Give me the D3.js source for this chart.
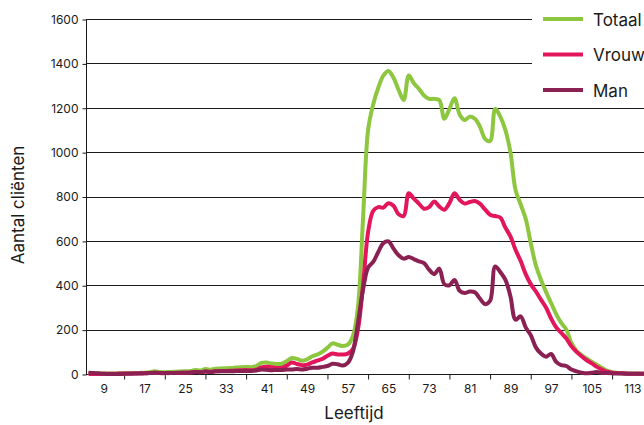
<!DOCTYPE html>
<html>
<head>
<meta charset="utf-8">
<script src="https://cdn.jsdelivr.net/npm/d3@7"></script>
<style>
  body { margin: 0; background: #fff; }
  svg { display: block; font-family: Inter, "Open Sans", sans-serif; }
</style>
</head>
<body>
<div id="chart"></div>
<script>
// ages 6..117 (one value per year of age)
const ages = d3.range(6, 118);

const totaal = [
  4, 3, 2, 2, 2, 2, 3, 3, 4, 4,                 // 6-15
  5, 6, 8, 12, 9, 8, 9, 10, 11, 12,             // 16-25
  13, 18, 16, 22, 19, 24, 25, 26, 27, 29,       // 26-35
  31, 32, 31, 36, 50, 52, 47, 45, 46, 58,       // 36-45
  72, 68, 60, 66, 80, 88, 100, 118, 138, 132,   // 46-55
  126, 132, 170, 300, 700, 1100, 1215, 1290, 1345, 1366, // 56-65
  1335, 1280, 1235, 1345, 1310, 1285, 1255, 1240, 1240, 1235, // 66-75
  1150, 1195, 1243, 1170, 1145, 1160, 1150, 1115, 1060, 1050, // 76-85
  1195, 1160, 1100, 1000, 830, 765, 700, 590, 490, 425,      // 86-95
  370, 320, 270, 230, 200, 140, 105, 85, 70, 55,             // 96-105
  42, 28, 15, 8, 5, 3, 2, 2, 2, 1,                           // 106-115
  1, 1                                                       // 116-117
];

const vrouw = [
  0, 0, 0, 1, 1, 1, 2, 2, 2, 2,
  3, 3, 4, 6, 4, 4, 4, 5, 5, 6,
  6, 9, 8, 11, 10, 12, 13, 14, 15, 16,
  17, 18, 17, 20, 30, 33, 30, 27, 28, 38,
  52, 45, 40, 42, 52, 60, 68, 82, 92, 88,
  88, 92, 112, 200, 400, 640, 735, 752, 750, 770,
  758, 720, 712, 815, 790, 768, 745, 752, 777, 755,
  740, 770, 815, 785, 768, 775, 780, 768, 742, 718,
  712, 705, 660, 620, 560, 510, 450, 405, 372, 335,
  300, 250, 210, 185, 160, 125, 100, 80, 62, 48,
  32, 20, 10, 6, 4, 3, 2, 1, 1, 1,
  0, 0
];

const man = [
  6, 5, 3, 1, 0, 0, 0, 1, 1, 2,
  2, 3, 4, 6, 5, 4, 5, 5, 6, 6,
  7, 9, 8, 11, 9, 12, 12, 12, 12, 13,
  14, 14, 14, 16, 20, 19, 17, 18, 18, 20,
  20, 23, 20, 24, 28, 28, 32, 36, 46, 44,
  38, 50, 100, 230, 380, 480, 505, 550, 590, 598,
  565, 535, 520, 527, 518, 508, 500, 470, 450, 475,
  405, 400, 424, 375, 365, 372, 368, 340, 315, 330,
  485, 460, 425, 350, 245, 260, 210, 175, 120, 92,
  78, 90, 55, 40, 36, 20, 12, 6, 3, 6,
  9, 5, 4, 3, 2, 2, 1, 1, 1, 1,
  0, 0
];

const xTicks = [13, 21, 29, 37, 45, 53, 61, 69, 77, 85, 93, 101, 109, 117];
const xLabels = [9, 17, 25, 33, 41, 49, 57, 65, 73, 81, 89, 97, 105, 113];
const yTicks = [0, 200, 400, 600, 800, 1000, 1200, 1400, 1600];

const series = [
  { name: "Totaal", values: totaal, color: "#8dc63f" },
  { name: "Vrouw", values: vrouw, color: "#e3165b" },
  { name: "Man", values: man, color: "#8b2153" }
];

const w = 644, h = 425;
const padLeft = 86, padTop = 19, padBottom = 374;

const svg = d3.select("#chart").append("svg")
  .attr("width", w).attr("height", h);

const x = d3.scaleLinear().domain([5.5, 117.5]).range([padLeft, padLeft + 112 * 5.083]);
const y = d3.scaleLinear().domain([0, 1600]).range([padBottom, padTop]);

// gridlines
svg.append("g")
  .selectAll("line")
  .data(yTicks.filter(d => d > 0))
  .join("line")
  .attr("x1", padLeft).attr("x2", w)
  .attr("y1", d => Math.round(y(d)) + 0.5).attr("y2", d => Math.round(y(d)) + 0.5)
  .attr("stroke", "#1a1a1a").attr("stroke-width", 1);

// y axis
const yAxis = svg.append("g")
  .attr("transform", "translate(" + (padLeft + 0.5) + ",0.5)")
  .call(d3.axisLeft(y).tickValues(yTicks).tickFormat(d3.format("d")).tickSize(4).tickPadding(4));
yAxis.selectAll("line, path").attr("stroke", "#1a1a1a");
yAxis.select(".domain").attr("d", "M0," + Math.round(padTop) + "V" + Math.round(padBottom));
yAxis.selectAll("text").attr("font-size", 12).attr("fill", "#1a1a1a")
  .style("font-family", "Inter");

// x axis: tick marks and labels separately
const xAxis = svg.append("g")
  .attr("transform", "translate(0," + (padBottom + 0.5) + ")")
  .call(d3.axisBottom(x).tickValues(xTicks).tickSize(5).tickFormat(""));
xAxis.selectAll("line").attr("stroke", "#1a1a1a");
xAxis.select(".domain").attr("d", "M" + padLeft + ",0H" + w).attr("stroke", "#1a1a1a");

const xLab = svg.append("g")
  .attr("transform", "translate(0," + (padBottom + 0.5) + ")")
  .call(d3.axisBottom(x).tickValues(xLabels).tickSize(0).tickPadding(10));
xLab.select(".domain").remove();
xLab.selectAll("text").attr("font-size", 12).attr("fill", "#1a1a1a")
  .style("font-family", "Inter");

// lines
const line = d3.line()
  .x((d, i) => x(ages[i]))
  .y(d => y(d))
  .curve(d3.curveCatmullRom.alpha(0.5));

svg.append("g")
  .selectAll("path")
  .data(series)
  .join("path")
  .attr("fill", "none")
  .attr("stroke", d => d.color)
  .attr("stroke-width", 4)
  .attr("stroke-linejoin", "round")
  .attr("d", d => line(d.values));

// legend
const legend = svg.append("g");
legend.append("rect")
  .attr("x", 532).attr("y", 0).attr("width", 112).attr("height", 100)
  .attr("fill", "#fff");
const items = legend.selectAll("g")
  .data(series)
  .join("g")
  .attr("transform", (d, i) => "translate(543," + (19 + i * 35.5) + ")");
items.append("line")
  .attr("x1", 0).attr("x2", 40)
  .attr("stroke", d => d.color).attr("stroke-width", 4);
items.append("text")
  .attr("x", 50).attr("y", 6.5)
  .attr("font-size", 17).attr("fill", "#1a1a1a")
  .text(d => d.name);

// axis titles
svg.append("text")
  .attr("transform", "translate(24,205) rotate(-90)")
  .style("text-anchor", "middle")
  .attr("font-size", 17).attr("fill", "#1a1a1a")
  .text("Aantal cliënten");

svg.append("text")
  .attr("x", 354).attr("y", 419)
  .style("text-anchor", "middle")
  .attr("font-size", 17).attr("fill", "#1a1a1a")
  .text("Leeftijd");
</script>
</body>
</html>
